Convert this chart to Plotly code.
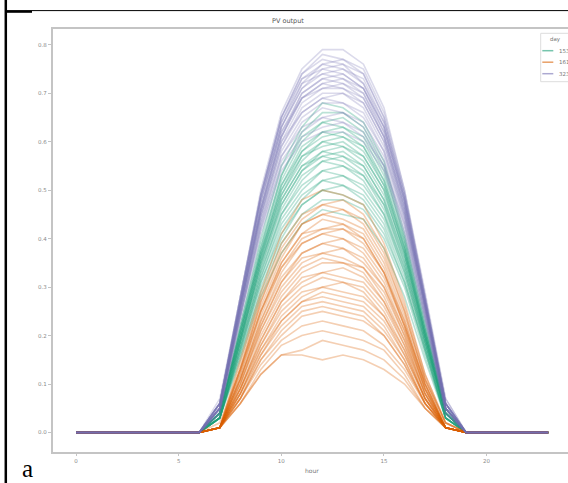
import plotly.graph_objects as go

HOURS = list(range(24))
DAYS = ["153", "161", "323"]
COLORS = {"153": "#1b9e77", "161": "#d95f02", "323": "#7570b3"}
ALPHA = {"153": 0.30, "161": 0.30, "323": 0.26}
Y_TICKS = [0.0, 0.1, 0.2, 0.3, 0.4, 0.5, 0.6, 0.7, 0.8]
Y_TICK_LABELS = ["0.0", "0.1", "0.2", "0.3", "0.4", "0.5", "0.6", "0.7", "0.8"]
X_TICKS = [0, 5, 10, 15, 20]

# hours 0-6 and 19-23 read as zero; values below are hours 7..18
NIGHT_BEFORE = [0.0] * 7
NIGHT_AFTER = [0.0] * 5

PV_323 = [
    [0.07, 0.28, 0.50, 0.66, 0.75, 0.79, 0.79, 0.76, 0.67, 0.50, 0.29, 0.07],
    [0.06, 0.28, 0.49, 0.65, 0.74, 0.78, 0.77, 0.75, 0.66, 0.50, 0.28, 0.07],
    [0.06, 0.27, 0.49, 0.65, 0.73, 0.76, 0.77, 0.74, 0.65, 0.49, 0.28, 0.06],
    [0.06, 0.27, 0.48, 0.64, 0.72, 0.76, 0.75, 0.73, 0.64, 0.49, 0.28, 0.06],
    [0.06, 0.27, 0.48, 0.63, 0.72, 0.74, 0.75, 0.72, 0.63, 0.48, 0.27, 0.06],
    [0.05, 0.26, 0.47, 0.63, 0.71, 0.75, 0.74, 0.71, 0.63, 0.48, 0.27, 0.06],
    [0.06, 0.27, 0.47, 0.62, 0.70, 0.73, 0.74, 0.71, 0.62, 0.47, 0.27, 0.05],
    [0.05, 0.26, 0.46, 0.61, 0.70, 0.73, 0.72, 0.70, 0.62, 0.47, 0.26, 0.06],
    [0.05, 0.26, 0.46, 0.62, 0.69, 0.72, 0.73, 0.70, 0.61, 0.46, 0.26, 0.05],
    [0.05, 0.26, 0.46, 0.61, 0.69, 0.72, 0.71, 0.69, 0.61, 0.46, 0.27, 0.06],
    [0.05, 0.25, 0.45, 0.60, 0.68, 0.71, 0.71, 0.68, 0.60, 0.45, 0.26, 0.05],
    [0.05, 0.25, 0.45, 0.59, 0.67, 0.70, 0.70, 0.67, 0.59, 0.45, 0.26, 0.05],
    [0.06, 0.26, 0.45, 0.60, 0.66, 0.69, 0.70, 0.68, 0.60, 0.46, 0.26, 0.06],
    [0.05, 0.25, 0.44, 0.59, 0.66, 0.69, 0.68, 0.66, 0.58, 0.45, 0.25, 0.05],
    [0.05, 0.25, 0.44, 0.58, 0.65, 0.68, 0.68, 0.65, 0.58, 0.44, 0.25, 0.05],
    [0.05, 0.24, 0.43, 0.57, 0.64, 0.67, 0.66, 0.64, 0.57, 0.44, 0.25, 0.05],
    [0.05, 0.24, 0.43, 0.57, 0.63, 0.65, 0.66, 0.63, 0.56, 0.43, 0.24, 0.05],
    [0.04, 0.24, 0.42, 0.56, 0.62, 0.65, 0.64, 0.62, 0.55, 0.43, 0.24, 0.05],
    [0.05, 0.24, 0.42, 0.55, 0.61, 0.63, 0.64, 0.61, 0.55, 0.42, 0.24, 0.04],
    [0.04, 0.23, 0.41, 0.54, 0.60, 0.62, 0.62, 0.60, 0.54, 0.41, 0.23, 0.04],
    [0.06, 0.28, 0.49, 0.64, 0.73, 0.75, 0.76, 0.72, 0.64, 0.48, 0.27, 0.06],
    [0.06, 0.27, 0.48, 0.63, 0.71, 0.74, 0.73, 0.71, 0.63, 0.48, 0.27, 0.06],
    [0.05, 0.26, 0.46, 0.61, 0.69, 0.71, 0.72, 0.69, 0.61, 0.47, 0.26, 0.05],
    [0.06, 0.28, 0.49, 0.65, 0.74, 0.77, 0.76, 0.74, 0.65, 0.49, 0.28, 0.06],
]

PV_153 = [
    [0.04, 0.22, 0.40, 0.55, 0.63, 0.68, 0.67, 0.64, 0.56, 0.41, 0.23, 0.05],
    [0.04, 0.22, 0.39, 0.53, 0.62, 0.66, 0.66, 0.63, 0.55, 0.40, 0.22, 0.05],
    [0.04, 0.21, 0.38, 0.53, 0.61, 0.64, 0.65, 0.62, 0.54, 0.40, 0.22, 0.04],
    [0.04, 0.21, 0.38, 0.52, 0.60, 0.64, 0.63, 0.61, 0.53, 0.39, 0.21, 0.05],
    [0.04, 0.21, 0.37, 0.51, 0.59, 0.62, 0.63, 0.60, 0.52, 0.39, 0.21, 0.04],
    [0.04, 0.20, 0.37, 0.50, 0.58, 0.62, 0.61, 0.59, 0.51, 0.38, 0.21, 0.04],
    [0.04, 0.20, 0.36, 0.50, 0.57, 0.60, 0.61, 0.58, 0.51, 0.38, 0.20, 0.04],
    [0.04, 0.20, 0.36, 0.49, 0.56, 0.60, 0.59, 0.57, 0.50, 0.37, 0.20, 0.04],
    [0.03, 0.19, 0.35, 0.48, 0.55, 0.58, 0.59, 0.56, 0.49, 0.37, 0.20, 0.04],
    [0.04, 0.19, 0.35, 0.47, 0.54, 0.58, 0.57, 0.55, 0.48, 0.36, 0.19, 0.04],
    [0.03, 0.19, 0.34, 0.46, 0.53, 0.56, 0.57, 0.54, 0.47, 0.35, 0.19, 0.04],
    [0.04, 0.19, 0.34, 0.47, 0.54, 0.57, 0.56, 0.53, 0.47, 0.35, 0.19, 0.03],
    [0.03, 0.18, 0.33, 0.45, 0.52, 0.56, 0.55, 0.53, 0.46, 0.34, 0.19, 0.04],
    [0.03, 0.18, 0.33, 0.45, 0.51, 0.54, 0.55, 0.52, 0.45, 0.34, 0.18, 0.03],
    [0.03, 0.18, 0.32, 0.44, 0.50, 0.54, 0.53, 0.51, 0.45, 0.33, 0.18, 0.04],
    [0.03, 0.17, 0.32, 0.43, 0.49, 0.52, 0.53, 0.50, 0.44, 0.33, 0.18, 0.03],
    [0.03, 0.17, 0.31, 0.42, 0.48, 0.52, 0.51, 0.49, 0.43, 0.32, 0.17, 0.03],
    [0.03, 0.17, 0.31, 0.41, 0.47, 0.50, 0.51, 0.48, 0.42, 0.31, 0.17, 0.03],
    [0.03, 0.16, 0.30, 0.40, 0.47, 0.50, 0.49, 0.47, 0.41, 0.31, 0.17, 0.03],
    [0.03, 0.16, 0.29, 0.39, 0.45, 0.48, 0.48, 0.46, 0.40, 0.30, 0.16, 0.03],
    [0.03, 0.15, 0.28, 0.37, 0.43, 0.46, 0.45, 0.44, 0.38, 0.28, 0.15, 0.03],
    [0.04, 0.21, 0.37, 0.51, 0.58, 0.61, 0.62, 0.59, 0.52, 0.38, 0.21, 0.05],
    [0.04, 0.20, 0.36, 0.49, 0.57, 0.59, 0.60, 0.57, 0.50, 0.37, 0.20, 0.04],
    [0.03, 0.19, 0.35, 0.48, 0.55, 0.57, 0.58, 0.55, 0.48, 0.36, 0.20, 0.04],
]

PV_161 = [
    [0.01, 0.15, 0.29, 0.41, 0.48, 0.50, 0.49, 0.47, 0.39, 0.27, 0.12, 0.02],
    [0.01, 0.14, 0.28, 0.39, 0.45, 0.47, 0.48, 0.45, 0.38, 0.26, 0.12, 0.02],
    [0.01, 0.13, 0.27, 0.38, 0.44, 0.47, 0.46, 0.44, 0.37, 0.25, 0.11, 0.02],
    [0.01, 0.13, 0.27, 0.37, 0.43, 0.45, 0.46, 0.43, 0.36, 0.25, 0.11, 0.01],
    [0.01, 0.13, 0.26, 0.36, 0.43, 0.45, 0.44, 0.42, 0.35, 0.24, 0.11, 0.02],
    [0.01, 0.12, 0.25, 0.35, 0.41, 0.44, 0.43, 0.41, 0.34, 0.23, 0.10, 0.01],
    [0.01, 0.12, 0.25, 0.35, 0.41, 0.42, 0.43, 0.40, 0.33, 0.23, 0.10, 0.01],
    [0.02, 0.13, 0.25, 0.34, 0.40, 0.42, 0.42, 0.40, 0.33, 0.22, 0.10, 0.01],
    [0.01, 0.11, 0.24, 0.34, 0.39, 0.41, 0.42, 0.39, 0.33, 0.22, 0.10, 0.01],
    [0.01, 0.11, 0.23, 0.33, 0.39, 0.41, 0.40, 0.38, 0.32, 0.22, 0.09, 0.01],
    [0.01, 0.11, 0.23, 0.32, 0.37, 0.39, 0.40, 0.37, 0.31, 0.21, 0.09, 0.01],
    [0.01, 0.11, 0.22, 0.31, 0.37, 0.39, 0.38, 0.36, 0.30, 0.21, 0.09, 0.01],
    [0.01, 0.10, 0.22, 0.31, 0.36, 0.37, 0.38, 0.35, 0.30, 0.20, 0.09, 0.01],
    [0.01, 0.10, 0.21, 0.30, 0.35, 0.37, 0.36, 0.34, 0.29, 0.20, 0.08, 0.01],
    [0.01, 0.10, 0.21, 0.29, 0.34, 0.36, 0.35, 0.34, 0.28, 0.19, 0.08, 0.01],
    [0.01, 0.09, 0.20, 0.28, 0.33, 0.35, 0.35, 0.33, 0.27, 0.19, 0.08, 0.01],
    [0.01, 0.09, 0.19, 0.27, 0.32, 0.33, 0.34, 0.32, 0.27, 0.18, 0.08, 0.01],
    [0.01, 0.09, 0.19, 0.27, 0.31, 0.33, 0.32, 0.31, 0.26, 0.18, 0.07, 0.01],
    [0.01, 0.09, 0.18, 0.26, 0.30, 0.32, 0.31, 0.30, 0.25, 0.17, 0.07, 0.01],
    [0.01, 0.08, 0.18, 0.25, 0.29, 0.30, 0.31, 0.29, 0.24, 0.17, 0.07, 0.01],
    [0.01, 0.08, 0.17, 0.24, 0.28, 0.30, 0.29, 0.28, 0.24, 0.16, 0.07, 0.01],
    [0.01, 0.08, 0.17, 0.23, 0.27, 0.29, 0.28, 0.27, 0.23, 0.16, 0.07, 0.01],
    [0.01, 0.08, 0.16, 0.23, 0.27, 0.28, 0.27, 0.26, 0.22, 0.15, 0.06, 0.01],
    [0.01, 0.07, 0.16, 0.22, 0.26, 0.27, 0.26, 0.25, 0.21, 0.15, 0.06, 0.01],
    [0.01, 0.07, 0.15, 0.21, 0.25, 0.26, 0.25, 0.24, 0.20, 0.14, 0.06, 0.01],
    [0.01, 0.07, 0.15, 0.20, 0.24, 0.25, 0.24, 0.23, 0.20, 0.14, 0.06, 0.01],
    [0.01, 0.07, 0.14, 0.19, 0.22, 0.23, 0.22, 0.21, 0.18, 0.13, 0.06, 0.01],
    [0.01, 0.06, 0.13, 0.18, 0.20, 0.21, 0.20, 0.19, 0.17, 0.12, 0.05, 0.01],
    [0.01, 0.06, 0.12, 0.16, 0.17, 0.19, 0.18, 0.17, 0.15, 0.11, 0.05, 0.01],
    [0.01, 0.06, 0.12, 0.16, 0.16, 0.15, 0.16, 0.15, 0.13, 0.10, 0.05, 0.01],
]

SERIES = {"323": PV_323, "153": PV_153, "161": PV_161}
DRAW_ORDER = ["153", "161", "323"]

W, H = 568, 483


def px_x(v):
    return v / W


def px_y(v):
    return (H - v) / H


def rgba(hex_color, a):
    h = hex_color.lstrip("#")
    r, g, b = int(h[0:2], 16), int(h[2:4], 16), int(h[4:6], 16)
    return f"rgba({r},{g},{b},{a})"


fig = go.Figure()
for day in DRAW_ORDER:
    for prof in SERIES[day]:
        fig.add_trace(go.Scatter(
            x=HOURS, y=NIGHT_BEFORE + prof + NIGHT_AFTER,
            mode="lines",
            line=dict(color=rgba(COLORS[day], ALPHA[day]), width=1.6),
            hoverinfo="skip", showlegend=False,
        ))

SPINE = "#c4c4c4"
TICKFONT = dict(family="DejaVu Sans", size=5.5, color="#8a8a8a")

fig.update_layout(
    width=W, height=H,
    margin=dict(l=0, r=0, t=0, b=0),
    paper_bgcolor="white", plot_bgcolor="white",
    showlegend=False,
    xaxis=dict(
        domain=[px_x(52.5), 1.0], range=[-1.15, 23.965],
        tickvals=X_TICKS, ticks="outside", ticklen=3, tickwidth=1, tickcolor=SPINE,
        showline=True, linecolor=SPINE, linewidth=1.5, mirror=True,
        showgrid=False, zeroline=False, tickfont=TICKFONT,
    ),
    yaxis=dict(
        domain=[px_y(451.7), px_y(29.3)], range=[-0.0396, 0.832],
        tickvals=Y_TICKS, ticktext=Y_TICK_LABELS,
        ticks="outside", ticklen=3, tickwidth=1, tickcolor=SPINE,
        showline=True, linecolor=SPINE, linewidth=1.5, mirror=False,
        showgrid=False, zeroline=False, tickfont=TICKFONT,
    ),
)

annotations = [
    dict(text="PV output", x=px_x(288), y=px_y(21.5), xref="paper", yref="paper",
         xanchor="center", yanchor="middle", showarrow=False,
         font=dict(family="DejaVu Sans", size=6.5, color="#555555")),
    dict(text="hour", x=px_x(312), y=px_y(470.5), xref="paper", yref="paper",
         xanchor="center", yanchor="middle", showarrow=False,
         font=dict(family="DejaVu Sans", size=6, color="#777777")),
    dict(text="a", x=px_x(27), y=0.0, xref="paper", yref="paper",
         xanchor="center", yanchor="bottom", showarrow=False, borderpad=0,
         font=dict(family="Liberation Serif", size=25, color="black")),
    dict(text="day", x=px_x(555), y=px_y(39.3), xref="paper", yref="paper",
         xanchor="center", yanchor="middle", showarrow=False,
         font=dict(family="DejaVu Sans", size=5.5, color="#777777")),
]

shapes = [
    # document frame
    dict(type="line", xref="paper", yref="paper", x0=px_x(5.8), x1=px_x(5.8),
         y0=px_y(0), y1=px_y(483), line=dict(color="black", width=2.5)),
    dict(type="line", xref="paper", yref="paper", x0=px_x(5), x1=px_x(568),
         y0=px_y(10.6), y1=px_y(10.6), line=dict(color="black", width=1)),
    dict(type="line", xref="paper", yref="paper", x0=px_x(5), x1=px_x(32),
         y0=px_y(11.8), y1=px_y(11.8), line=dict(color="black", width=2)),
    # legend box
    dict(type="rect", xref="paper", yref="paper", x0=px_x(540.7), x1=px_x(575),
         y0=px_y(81.7), y1=px_y(33.3), line=dict(color="#dddddd", width=1),
         fillcolor="rgba(255,255,255,0.85)"),
]

legend_rows = [("153", 50.7), ("161", 62.2), ("323", 73.7)]
for day, ypx in legend_rows:
    shapes.append(dict(type="line", xref="paper", yref="paper",
                       x0=px_x(542.3), x1=px_x(553.3), y0=px_y(ypx), y1=px_y(ypx),
                       line=dict(color=rgba(COLORS[day], 0.6), width=1.5)))
    annotations.append(dict(text=day, x=px_x(556.5), y=px_y(ypx), xref="paper", yref="paper",
                            xanchor="left", yanchor="middle", showarrow=False,
                            font=dict(family="DejaVu Sans", size=5.5, color="#777777")))

fig.update_layout(annotations=annotations, shapes=shapes)
fig.write_html("out.html")
